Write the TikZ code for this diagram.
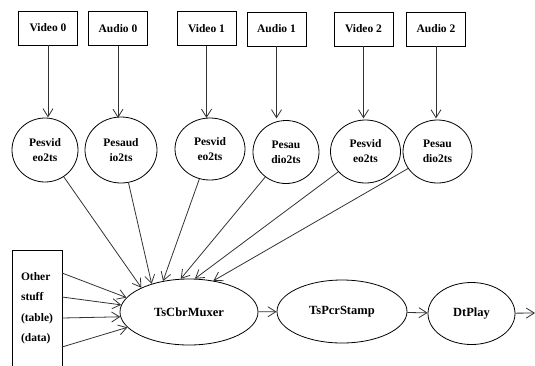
\documentclass[tikz,border=0pt]{standalone}
\usepackage{fontspec}
\setmainfont{Liberation Serif}
\usetikzlibrary{shapes.geometric,arrows.meta}

\begin{document}
\begin{tikzpicture}[
		x=1pt, y=-1pt,
		every node/.style={draw, line width=0.8pt, font=\bfseries\fontsize{11.5}{15}\selectfont, inner sep=0pt},
		srcbox/.style={rectangle, minimum width=59pt, minimum height=34pt},
		pes/.style={ellipse, minimum width=68pt, minimum height=64pt, align=center},
		stage/.style={ellipse, font=\bfseries\fontsize{12.5}{15}\selectfont},
		flow/.style={-{Straight Barb[length=8pt, width=10pt]}, line width=0.8pt, draw=black!80}
	]
  \clip (0,0) rectangle (535,365);
  % sources
  \node (v_0) [srcbox] at (48, 28) {Video 0};
  \node (a_0) [srcbox] at (118, 28.5) {Audio 0};
  \node (v_1) [srcbox] at (206.5, 28.5) {Video 1};
  \node (a_1) [srcbox] at (276.5, 29) {Audio 1};
  \node (v_2) [srcbox] at (363.5, 29) {Video 2};
  \node (a_2) [srcbox] at (436, 29) {Audio 2};
  % pes packers
  \node (pv_0) [pes, minimum width=66pt] at (45, 150) {Pesvid\\eo2ts};
  \node (pa_0) [pes, minimum width=72pt, minimum height=66pt] at (121, 150) {Pesaud\\io2ts};
  \node (pv_1) [pes, minimum width=70pt, minimum height=62pt] at (210, 149) {Pesvid\\eo2ts};
  \node (pa_1) [pes, minimum width=66pt, minimum height=63pt] at (286, 152) {Pesau\\dio2ts};
  \node (pv_2) [pes, minimum width=70pt, minimum height=63pt] at (365.5, 151.5) {Pesvid\\eo2ts};
  \node (pa_2) [pes, minimum width=69pt, minimum height=63pt] at (437.5, 151.5) {Pesau\\dio2ts};
  % chain
  \node (mux) [stage, minimum width=138pt, minimum height=66pt] at (189, 312) {TsCbrMuxer};
  \node (pcr) [stage, minimum width=130pt, minimum height=63pt] at (342, 311.5) {TsPcrStamp};
  \node (play) [stage, minimum width=87pt, minimum height=62pt] at (471.5, 313.5) {DtPlay};
  \coordinate (out) at (535, 313);
  % other input
  \node (other) [rectangle, minimum width=50pt, minimum height=130pt, anchor=north] at (37, 250) {};
  \node (other_label) [draw=none, align=left, font=\bfseries\fontsize{11.5}{20.5}\selectfont]
    at (37, 308) {Other\\stuff\\(table)\\(data)};
  \coordinate (o_1) at (62, 273);
  \coordinate (o_2) at (62, 297);
  \coordinate (o_3) at (62, 318);
  \coordinate (o_4) at (62, 347);

  \foreach \s in {v_0, a_0, v_1, a_1, v_2, a_2}
    \draw [flow] (\s.south) -- ++(0, 72);
  \draw [flow] (pv_0) -- (mux.153);
  \draw [flow] (pa_0) -- (mux.143);
  \draw [flow] (pv_1) -- (mux.130);
  \draw [flow] (pa_1) -- (mux.104);
  \draw [flow] (pv_2) -- (mux.80);
  \draw [flow] (pa_2) -- (mux.52);
  \draw [flow] (o_1) -- (mux.167);
  \draw [flow] (o_2) -- (mux.174);
  \draw [flow] (o_3) -- (mux.184);
  \draw [flow] (o_4) -- (mux.194);
  \draw [flow] (mux) -- (pcr);
  \draw [flow] (pcr) -- (play);
  \draw [flow] (play) -- (out);
\end{tikzpicture}
\end{document}
